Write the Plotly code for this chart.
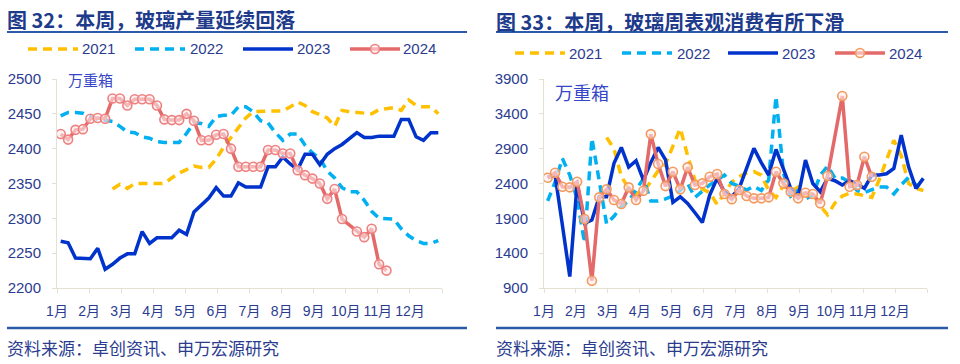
import plotly.graph_objects as go

W, H = 960, 364

weeks = list(range(1, 53))
month_labels = ["1月", "2月", "3月", "4月", "5月", "6月", "7月", "8月", "9月", "10月", "11月", "12月"]

# ---------- Left chart: glass output (万重箱) ----------
prod_2021 = [None] * 7 + [2342, 2349, 2343, 2350, 2350, 2350, 2350, 2350, 2358, 2365,
                          2370, 2375, 2373, 2373, 2385, 2402, 2416, 2430, 2444, 2453,
                          2454, 2454, 2454, 2454, 2460, 2467, 2462, 2453, 2449, 2444,
                          2432, 2455, 2453, 2452, 2450, 2450, 2456, 2458, 2459, 2455,
                          2470, 2462, 2460, 2460, 2450]
prod_2022 = [2447, 2452, 2452, 2451, 2446, 2442, 2441, 2439, 2432, 2424,
             2423, 2417, 2415, 2410, 2409, 2409, 2409, 2422, 2437, 2436,
             2432, 2446, 2448, 2448, 2460, 2460, 2453, 2440, 2437, 2423,
             2412, 2421, 2421, 2405, 2394, 2386, 2368, 2358, 2344, 2338,
             2338, 2326, 2310, 2300, 2300, 2299, 2285, 2275, 2268, 2264,
             2264, 2268]
prod_2023 = [2267, 2265, 2243, 2243, 2242, 2257, 2227, 2234, 2243, 2249,
             2249, 2281, 2264, 2272, 2272, 2272, 2283, 2277, 2309, 2319,
             2329, 2344, 2332, 2332, 2351, 2345, 2345, 2345, 2374, 2374,
             2388, 2378, 2370, 2392, 2392, 2377, 2392, 2400, 2406, 2414,
             2423, 2416, 2416, 2418, 2418, 2418, 2442, 2442, 2417, 2412,
             2423, 2423]
prod_2024 = [2421, 2413, 2427, 2428, 2443, 2444, 2443, 2472, 2472, 2462,
             2471, 2471, 2471, 2462, 2442, 2441, 2441, 2450, 2440, 2412,
             2412, 2420, 2421, 2400, 2374, 2374, 2374, 2374, 2398, 2398,
             2393, 2393, 2369, 2362, 2357, 2350, 2328, 2342, 2299, None,
             2281, 2273, 2285, 2234, 2225]
prod_ticks = [2200, 2250, 2300, 2350, 2400, 2450, 2500]

# ---------- Right chart: apparent consumption (万重箱) ----------
cons_2021 = [None] * 8 + [3060, 2900, 2500, 2330, 2260, 2280, 2430, 2580, 2680, 2920,
                          3190, 2800, 2450, 2320, 2270, 2100, 2250, 2420, 2500, 2550,
                          2570, 2520, 2300, 2200, 2370, 2280, 2350, 2220, 2250, 2080,
                          1950, 2120, 2220, 2260, 2250, 2220, 2200, 2450, 2730, 3020,
                          2800, 2400, 2330, 2300]
cons_2022 = [2150, 2420, 2760, 2520, 2180, 1550, 3050, 2400, 1820, 1930,
             2070, 2150, 2300, 2470, 2150, 2150, 2180, 2220, 2300, 2400,
             2200, 2290, 2380, 2450, 2520, 2400, 2360, 2306, 2360, 2300,
             2450, 3650, 2550, 2220, 2300, 2180, 2230, 2520, 2650, 2480,
             2480, 2420, 2300, 2270, 2310, 2350, 2350, 2250, 2380, 2490,
             2380, 2320]
cons_2023 = [2488, 2521, 1800, 1065, 2405, 1830, 1876, 2210, 2210, 2689,
             2918, 2635, 2726, 2450, 2700, 2918, 2740, 2130, 2210, 2115,
             1980, 1840, 2234, 2474, 2282, 2210, 2330, 2620, 2904, 2700,
             2521, 2890, 2600, 2330, 2210, 2736, 2400, 2282, 2474, 2440,
             2378, 2440, 2392, 2330, 2521, 2521, 2540, 2617, 3095, 2640,
             2330, 2474]
cons_2024 = [2482, 2554, 2353, 2345, 2425, 1890, 1005, 2201, 2316, 2163,
             2105, 2345, 2163, 2296, 3109, 2679, 2363, 2569, 2316, 2632,
             2378, 2402, 2497, 2536, 2249, 2175, 2306, 2220, 2187, 2187,
             2201, 2569, 2402, 2282, 2187, 2267, 2249, 2115, 2507, None,
             3655, 2354, 2378, 2784, 2497]
cons_ticks = [900, 1400, 1900, 2400, 2900, 3400, 3900]

series_names = ["2021", "2022", "2023", "2024"]

# ---------- styles ----------
C21, C22, C23, C24 = "#FFC000", "#00B0F0", "#0033CC", "#E46A6A"
CIRC_L, CIRC_R = "#EE8080", "#F39A5E"
TXT = "#2B3C8F"
TITLE = "#1E3A8A"
RULE = "#2C5AAA"
AXIS = "#E4E1D3"
FONT = "Liberation Sans, Arial, Noto Sans CJK SC, sans-serif"
CJK = "Noto Sans CJK SC, sans-serif"
DASH = "9px,6px"


def px_x(p):
    return p / W


def px_y(p):
    return 1 - p / H


fig = go.Figure()

def add_series(xa, ya, d21, d22, d23, d24, circ):
    n = len(d24)
    fig.add_trace(go.Scatter(x=weeks, y=d21, xaxis=xa, yaxis=ya, mode="lines",
                             line=dict(color=C21, width=3.5, dash=DASH), connectgaps=False,
                             name=series_names[0], showlegend=False, hoverinfo="skip"))
    fig.add_trace(go.Scatter(x=weeks, y=d22, xaxis=xa, yaxis=ya, mode="lines",
                             line=dict(color=C22, width=3.5, dash=DASH),
                             name=series_names[1], showlegend=False, hoverinfo="skip"))
    fig.add_trace(go.Scatter(x=weeks, y=d23, xaxis=xa, yaxis=ya, mode="lines",
                             line=dict(color=C23, width=3.5),
                             name=series_names[2], showlegend=False, hoverinfo="skip"))
    fig.add_trace(go.Scatter(x=weeks[:n], y=d24, xaxis=xa, yaxis=ya, mode="lines+markers",
                             connectgaps=True,
                             line=dict(color=C24, width=3.5),
                             marker=dict(size=9, color="rgba(255,235,235,0.6)",
                                         line=dict(color=circ, width=1.6)),
                             name=series_names[3], showlegend=False, hoverinfo="skip"))


add_series("x", "y", prod_2021, prod_2022, prod_2023, prod_2024, CIRC_L)
add_series("x2", "y2", cons_2021, cons_2022, cons_2023, cons_2024, CIRC_R)

tickvals_x = [0.5 + i * 52 / 12 for i in range(13)]
ticktext_x = month_labels + [""]

xcommon = dict(range=[0.5, 52.5], tickmode="array", tickvals=tickvals_x, ticktext=ticktext_x,
               showline=True, linecolor=AXIS, linewidth=1, ticks="outside", ticklen=4,
               tickcolor=AXIS, showgrid=False, zeroline=False, automargin=False,
               tickfont=dict(family=FONT, size=14, color=TXT), ticklabelstandoff=6)
ycommon = dict(showline=True, linecolor=AXIS, linewidth=1, ticks="outside", ticklen=4,
               tickcolor=AXIS, showgrid=False, zeroline=False, automargin=False,
               tickfont=dict(family=FONT, size=15, color=TXT), ticklabelstandoff=8)

ydom = [px_y(288), px_y(79)]
fig.update_layout(
    width=W, height=H, margin=dict(l=0, r=0, t=0, b=0, autoexpand=False),
    paper_bgcolor="white", plot_bgcolor="white", showlegend=False,
    xaxis=dict(domain=[px_x(57), px_x(442)], anchor="y", **xcommon),
    yaxis=dict(domain=ydom, anchor="x", range=[2200, 2500], tickvals=prod_ticks, **ycommon),
    xaxis2=dict(domain=[px_x(544), px_x(927)], anchor="y2", **xcommon),
    yaxis2=dict(domain=ydom, anchor="x2", range=[900, 3900], tickvals=cons_ticks, **ycommon),
)

shapes = []
annos = []

def text(x, y, s, size, color, bold=False, family=CJK, xanchor="left"):
    annos.append(dict(xref="paper", yref="paper", x=px_x(x), y=px_y(y), text=("<b>%s</b>" % s) if bold else s,
                      showarrow=False, xanchor=xanchor, yanchor="middle",
                      font=dict(family=family, size=size, color=color)))

def hline(x0, x1, y, color, width, dash="solid"):
    shapes.append(dict(type="line", xref="paper", yref="paper", x0=px_x(x0), x1=px_x(x1),
                       y0=px_y(y), y1=px_y(y), line=dict(color=color, width=width, dash=dash)))

# Titles and rules
text(5, 19, "图 32：本周，玻璃产量延续回落", 20, TITLE, bold=True)
text(494, 21, "图 33：本周，玻璃周表观消费有所下滑", 20, TITLE, bold=True)
hline(7, 467, 32, RULE, 2)
hline(496, 948, 32, RULE, 2)
hline(7, 467, 328, RULE, 2.5)
hline(496, 948, 328, RULE, 2.5)
text(5, 347, "资料来源：卓创资讯、申万宏源研究", 17, TXT)
text(494, 347, "资料来源：卓创资讯、申万宏源研究", 17, TXT)

# Unit labels
text(66, 79, "万重箱", 15, "#3646C8")
text(553, 92, "万重箱", 18, "#3646C8")

# Legends (drawn as layout shapes)
def legend(y, xs, circ):
    colors = [C21, C22, C23, C24]
    dashes = [DASH, DASH, "solid", "solid"]
    for i, (x0, tx) in enumerate(xs):
        hline(x0, x0 + 50, y, colors[i], 3.5, dashes[i])
        text(tx, y, series_names[i], 15, TXT, family=FONT)
    x0 = xs[3][0] + 25
    shapes.append(dict(type="circle", xref="paper", yref="paper",
                       x0=px_x(x0 - 4.5), x1=px_x(x0 + 4.5), y0=px_y(y + 4.5), y1=px_y(y - 4.5),
                       fillcolor="rgba(255,235,235,0.6)", line=dict(color=circ, width=1.6)))

legend(49, [(28, 80), (135, 188), (243, 295), (350, 401)], CIRC_L)
legend(53, [(515, 567), (622, 675), (728, 780), (835, 887)], CIRC_R)

fig.update_layout(shapes=shapes, annotations=annos)
fig.write_html("out.html", config={"displayModeBar": False, "staticPlot": True},
               post_script="document.body.style.margin='0';document.body.style.padding='0';document.body.style.overflow='hidden';")
